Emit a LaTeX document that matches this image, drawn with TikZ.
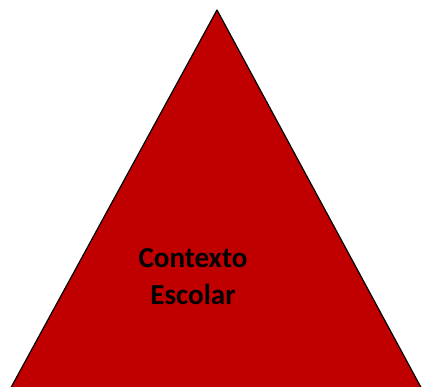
\documentclass[tikz,border=0pt]{standalone}
\usepackage{fontspec}
\setmainfont{Carlito}
\definecolor{rojo}{HTML}{C00000}

\begin{document}
\begin{tikzpicture}[x=1pt,y=1pt]
 \useasboundingbox (0,0) rectangle (422,387); %marco
 \clip (0,0) rectangle (422,387);
 \draw[fill=rojo,line width=1.2pt,line join=round] (217,377)--(8,-6)--(424,-6)--cycle; %triangulo
 \node[font=\bfseries\fontsize{29}{37}\selectfont,align=center,anchor=base] (ctx) at (193,82) {Contexto\\Escolar}; %texto
\end{tikzpicture}
\end{document}
